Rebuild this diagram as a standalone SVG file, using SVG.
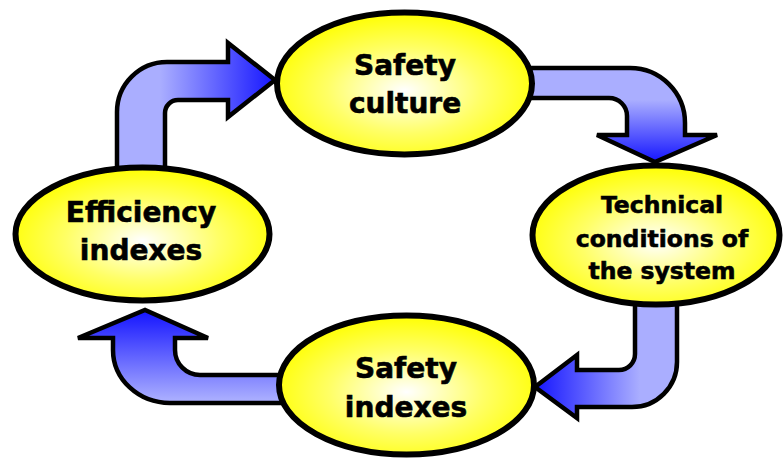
<svg xmlns="http://www.w3.org/2000/svg" width="784" height="460" viewBox="0 0 784 460">
  <defs>
    <radialGradient id="oval" cx="50%" cy="55%" r="55%">
      <stop offset="0" stop-color="#ffffff"/>
      <stop offset="0.55" stop-color="#ffff66"/>
      <stop offset="1" stop-color="#ffff00"/>
    </radialGradient>
    <linearGradient id="gTopLeft" gradientUnits="userSpaceOnUse" x1="160" y1="0" x2="272" y2="0">
      <stop offset="0" stop-color="#aaaeff"/>
      <stop offset="1" stop-color="#1a1aff"/>
    </linearGradient>
    <linearGradient id="gTopRight" gradientUnits="userSpaceOnUse" x1="0" y1="100" x2="0" y2="160">
      <stop offset="0" stop-color="#aaaeff"/>
      <stop offset="1" stop-color="#1a1aff"/>
    </linearGradient>
    <linearGradient id="gBottomRight" gradientUnits="userSpaceOnUse" x1="640" y1="0" x2="538" y2="0">
      <stop offset="0" stop-color="#aaaeff"/>
      <stop offset="1" stop-color="#1a1aff"/>
    </linearGradient>
    <linearGradient id="gBottomLeft" gradientUnits="userSpaceOnUse" x1="0" y1="400" x2="0" y2="314">
      <stop offset="0" stop-color="#aaaeff"/>
      <stop offset="1" stop-color="#1a1aff"/>
    </linearGradient>
  </defs>
  <style>
    .arrow { stroke: #000; stroke-width: 4.5; stroke-linejoin: miter; }
    .node ellipse { fill: url(#oval); stroke: #000; stroke-width: 6; }
    .node text { font-family: "DejaVu Sans", Verdana, sans-serif; font-weight: bold; fill: #000; stroke: #000; stroke-width: 0.6; text-anchor: middle; }
    .big { font-size: 28px; }
    .small { font-size: 23.5px; }
  </style>

  <rect width="784" height="460" fill="#ffffff"/>

  <!-- bent block arrows linking the four stages -->
  <g id="connectors">
    <path class="arrow" fill="url(#gTopLeft)"
          d="M117,170 L117,112 A50,50 0 0 1 167,62 L228,62 L228,43 L275,80 L228,117 L228,100 L178,100 A13,13 0 0 0 165,113 L165,170 Z"/>
    <path class="arrow" fill="url(#gTopRight)"
          d="M528,68 L630,68 A55,55 0 0 1 685,123 L685,135 L717,135 L655,162 L597,135 L627,135 L627,116 A18,18 0 0 0 609,98 L528,98 Z"/>
    <path class="arrow" fill="url(#gBottomRight)"
          d="M677,300 L677,362 A45,45 0 0 1 632,407 L577,407 L577,418 L535,387 L577,355 L577,370 L619,370 A16,16 0 0 0 635,354 L635,300 Z"/>
    <path class="arrow" fill="url(#gBottomLeft)"
          d="M285,403 L170,403 A57,53 0 0 1 113,350 L113,338 L78,338 L145,310 L208,338 L175,338 L175,350 A25,25 0 0 0 200,375 L285,375 Z"/>
  </g>

  <g id="safety-culture" class="node">
    <ellipse cx="404.5" cy="83.5" rx="127.5" ry="71"/>
    <text class="big" x="405" y="75">Safety</text>
    <text class="big" x="405" y="113">culture</text>
  </g>

  <g id="technical-conditions" class="node">
    <ellipse cx="656" cy="235" rx="123.5" ry="69.5"/>
    <text class="small" x="662" y="213">Technical</text>
    <text class="small" x="662" y="247">conditions of</text>
    <text class="small" x="662" y="279">the system</text>
  </g>

  <g id="safety-indexes" class="node">
    <ellipse cx="406.5" cy="385" rx="127.5" ry="69.5"/>
    <text class="big" x="406" y="378">Safety</text>
    <text class="big" x="406" y="417">indexes</text>
  </g>

  <g id="efficiency-indexes" class="node">
    <ellipse cx="142.5" cy="234" rx="127" ry="66.5"/>
    <text class="big" x="141" y="222">Efficiency</text>
    <text class="big" x="141" y="260">indexes</text>
  </g>
</svg>
